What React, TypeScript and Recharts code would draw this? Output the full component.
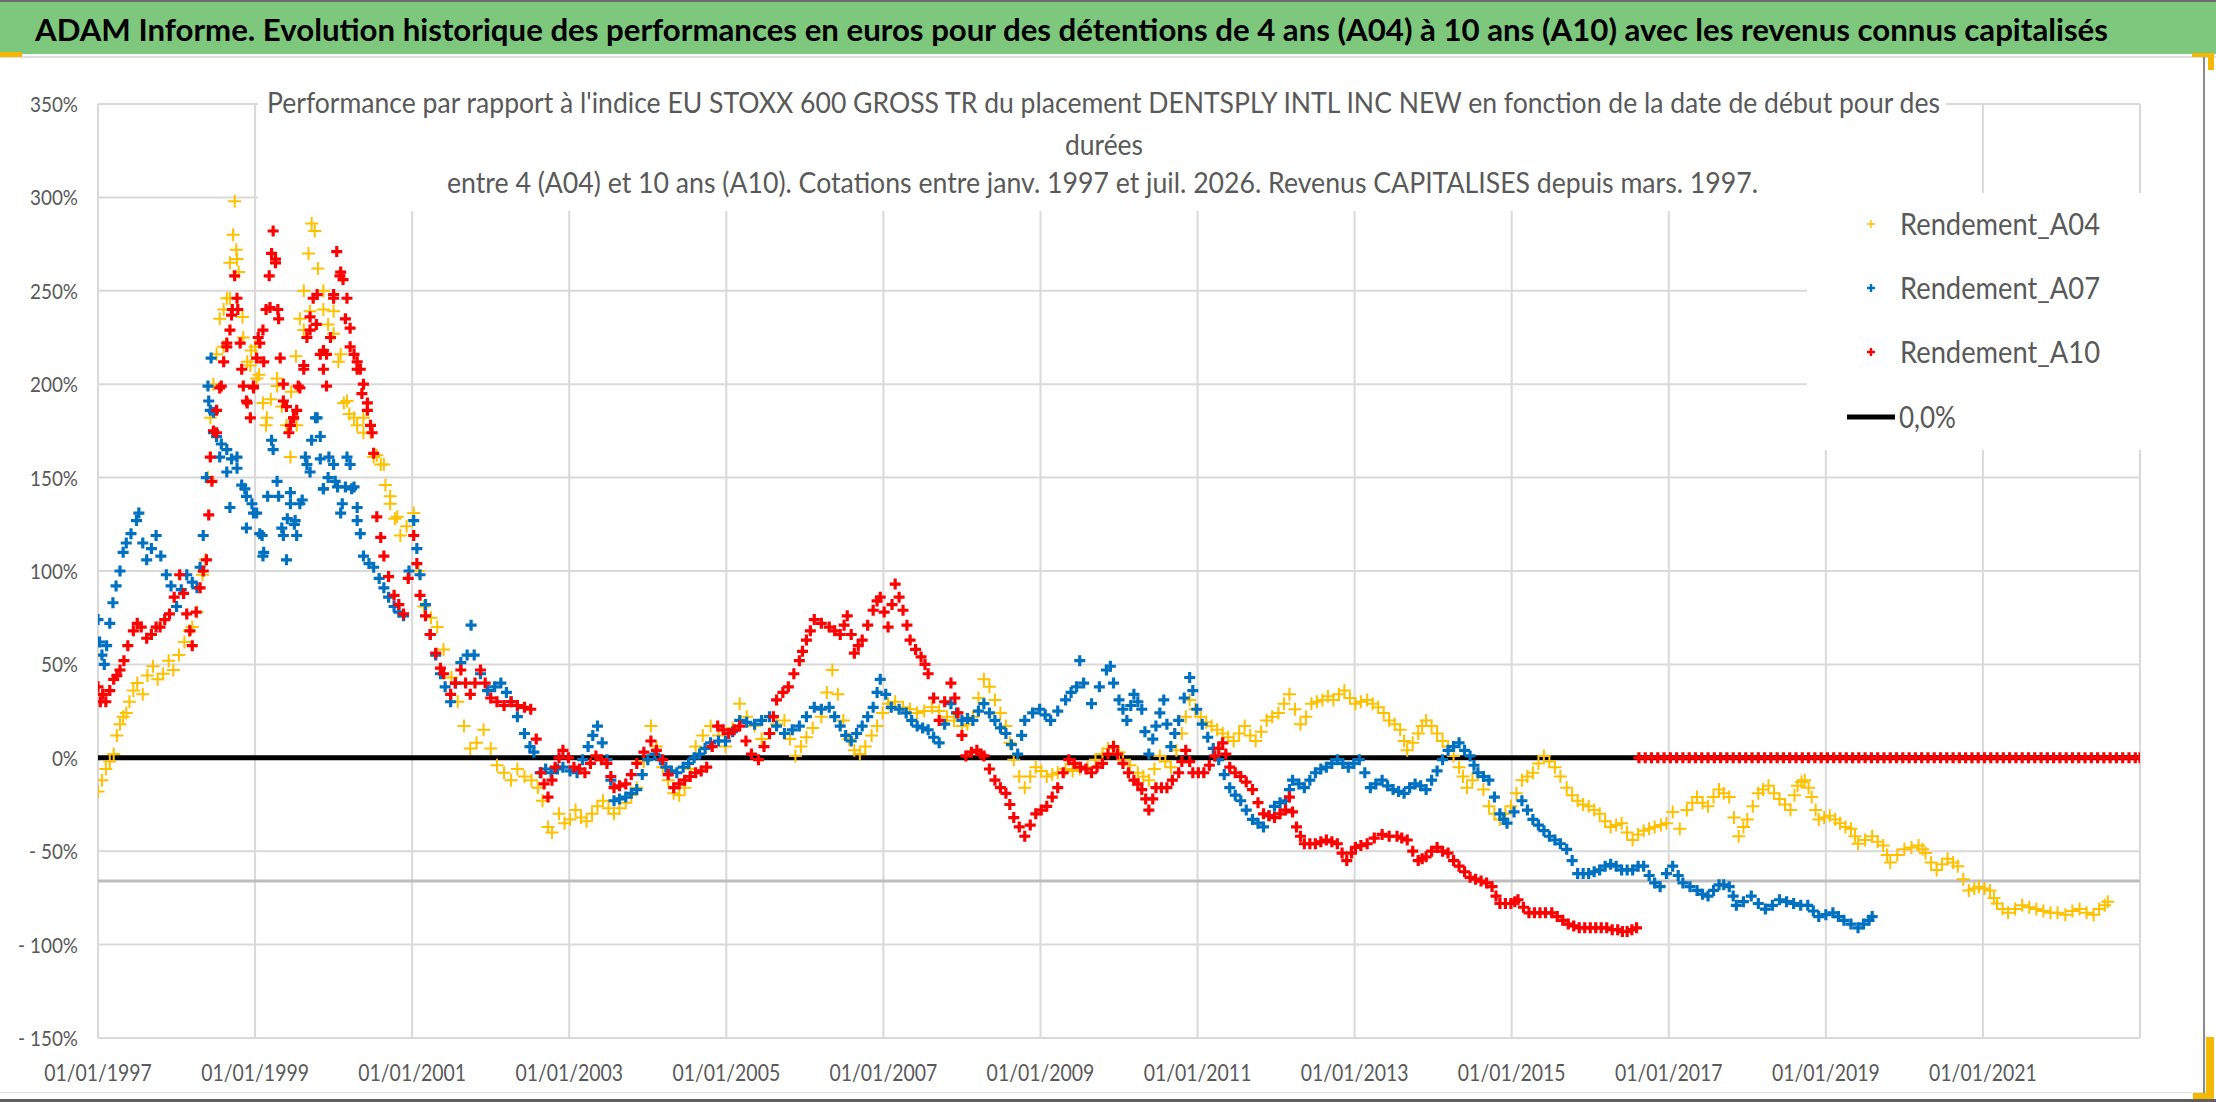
import { ScatterChart, Scatter, XAxis, YAxis, CartesianGrid } from 'recharts'

// values: [year, performance %]
const A04: [number, number][] = [
  [1997.0, -18], [1997.05, -12], [1997.1, -6], [1997.15, -2], [1997.2, 2], [1997.24, 12], [1997.28, 18],
  [1997.32, 22], [1997.36, 24], [1997.4, 30], [1997.45, 36], [1997.5, 40], [1997.57, 34], [1997.63, 44],
  [1997.7, 49], [1997.76, 42], [1997.83, 45], [1997.9, 52], [1997.96, 47], [1998.03, 55], [1998.1, 62],
  [1998.16, 68], [1998.2, 70], [1998.26, 78], [1998.33, 98], [1998.37, 106], [1998.4, 150], [1998.43, 182],
  [1998.47, 200], [1998.51, 216], [1998.55, 235], [1998.6, 240], [1998.64, 246], [1998.68, 265], [1998.72, 280],
  [1998.74, 298], [1998.76, 272], [1998.79, 260], [1998.84, 236], [1998.9, 212], [1998.95, 218], [1999.0, 220],
  [1999.05, 205], [1999.1, 190], [1999.14, 178], [1999.2, 192], [1999.28, 203], [1999.34, 188], [1999.4, 178],
  [1999.46, 196], [1999.52, 215], [1999.57, 235], [1999.62, 250], [1999.68, 270], [1999.72, 286], [1999.76, 282],
  [1999.8, 262], [1999.87, 240], [1999.93, 232], [2000.0, 227], [2000.06, 212], [2000.13, 190], [2000.2, 184],
  [2000.3, 178], [2000.38, 182], [2000.47, 174], [2000.55, 162], [2000.6, 157], [2000.66, 146], [2000.72, 136],
  [2000.78, 128], [2000.85, 119], [2000.93, 124], [2001.02, 131], [2001.08, 100], [2001.15, 81], [2001.24, 75],
  [2001.32, 70], [2001.4, 58], [2001.5, 43], [2001.58, 30], [2001.66, 17], [2001.74, 5], [2001.82, 8],
  [2001.91, 15], [2002.0, 5], [2002.08, -4], [2002.17, -8], [2002.26, -12], [2002.34, -6], [2002.43, -10],
  [2002.52, -12], [2002.6, -16], [2002.66, -23], [2002.73, -37], [2002.78, -40], [2002.87, -30], [2002.94, -35],
  [2003.01, -33], [2003.08, -28], [2003.15, -32], [2003.22, -34], [2003.29, -30], [2003.36, -26], [2003.43, -23],
  [2003.5, -27], [2003.57, -30], [2003.64, -27], [2003.72, -24], [2003.79, -20], [2003.86, -16], [2003.95, -2],
  [2004.04, 17], [2004.11, 6], [2004.19, -5], [2004.26, -12], [2004.33, -19], [2004.4, -20], [2004.47, -16],
  [2004.54, -6], [2004.61, 6], [2004.7, 12], [2004.8, 17], [2004.9, 12], [2004.99, 6], [2005.08, 16],
  [2005.17, 29], [2005.26, 22], [2005.36, 17], [2005.45, 10], [2005.55, 13], [2005.64, 18], [2005.74, 20],
  [2005.81, 10], [2005.88, 1], [2005.95, 6], [2006.02, 11], [2006.1, 16], [2006.21, 22], [2006.28, 35],
  [2006.35, 47], [2006.42, 34], [2006.49, 20], [2006.56, 10], [2006.63, 4], [2006.7, 2], [2006.77, 6],
  [2006.85, 12], [2006.92, 17], [2006.99, 24], [2007.06, 29], [2007.15, 30], [2007.25, 27], [2007.34, 26],
  [2007.43, 24], [2007.52, 25], [2007.62, 27], [2007.71, 25], [2007.81, 22], [2007.9, 20], [2008.0, 17],
  [2008.07, 18], [2008.14, 22], [2008.21, 32], [2008.28, 42], [2008.35, 38], [2008.42, 31], [2008.49, 24],
  [2008.56, 17], [2008.61, 8], [2008.66, -1], [2008.73, -10], [2008.8, -16], [2008.87, -10], [2008.94, -5],
  [2009.01, -7], [2009.08, -10], [2009.15, -9], [2009.22, -8], [2009.32, -6], [2009.41, -7], [2009.5, -6],
  [2009.6, -5], [2009.7, -1], [2009.79, 2], [2009.86, 5], [2009.93, 6], [2010.0, 3], [2010.05, -1],
  [2010.14, -4], [2010.24, -8], [2010.31, -10], [2010.38, -12], [2010.45, -6], [2010.52, 1], [2010.59, -2],
  [2010.66, -5], [2010.73, 4], [2010.8, 13], [2010.85, 22], [2010.9, 31], [2010.97, 26], [2011.04, 22],
  [2011.11, 19], [2011.18, 17], [2011.25, 15], [2011.32, 13], [2011.39, 11], [2011.46, 9], [2011.53, 13],
  [2011.6, 17], [2011.67, 12], [2011.74, 9], [2011.81, 14], [2011.88, 20], [2011.95, 22], [2012.03, 24],
  [2012.1, 29], [2012.17, 34], [2012.24, 26], [2012.31, 18], [2012.38, 22], [2012.45, 29], [2012.52, 30],
  [2012.59, 31], [2012.66, 33], [2012.73, 31], [2012.8, 34], [2012.87, 36], [2012.94, 32], [2013.01, 29],
  [2013.08, 30], [2013.16, 31], [2013.23, 29], [2013.3, 27], [2013.37, 24], [2013.44, 20], [2013.51, 18],
  [2013.58, 15], [2013.63, 9], [2013.67, 4], [2013.74, 8], [2013.81, 13], [2013.86, 17], [2013.91, 20],
  [2013.98, 17], [2014.05, 13], [2014.12, 9], [2014.19, 6], [2014.26, 1], [2014.33, -5], [2014.38, -10],
  [2014.43, -16], [2014.5, -12], [2014.57, -8], [2014.64, -17], [2014.71, -26], [2014.78, -30], [2014.85, -33],
  [2014.92, -30], [2014.99, -26], [2015.06, -19], [2015.13, -12], [2015.2, -10], [2015.27, -8], [2015.34, -3],
  [2015.41, 1], [2015.48, -2], [2015.55, -5], [2015.62, -10], [2015.7, -16], [2015.77, -20], [2015.84, -23],
  [2015.91, -25], [2015.98, -26], [2016.05, -28], [2016.12, -30], [2016.19, -34], [2016.26, -37], [2016.33, -36],
  [2016.4, -35], [2016.47, -40], [2016.54, -44], [2016.61, -41], [2016.68, -39], [2016.75, -38], [2016.82, -37],
  [2016.9, -36], [2016.97, -35], [2017.05, -29], [2017.14, -38], [2017.23, -28], [2017.3, -24], [2017.36, -21],
  [2017.43, -24], [2017.5, -26], [2017.57, -21], [2017.64, -17], [2017.7, -19], [2017.77, -21], [2017.83, -32],
  [2017.89, -42], [2017.95, -37], [2018.0, -33], [2018.07, -26], [2018.14, -19], [2018.2, -17], [2018.27, -15],
  [2018.34, -19], [2018.41, -22], [2018.48, -25], [2018.55, -28], [2018.6, -20], [2018.64, -15], [2018.69, -13],
  [2018.73, -12], [2018.78, -16], [2018.82, -21], [2018.87, -28], [2018.91, -33], [2018.98, -32], [2019.05, -31],
  [2019.12, -33], [2019.18, -35], [2019.25, -37], [2019.32, -38], [2019.37, -42], [2019.41, -46], [2019.5, -44],
  [2019.59, -42], [2019.66, -45], [2019.73, -47], [2019.78, -52], [2019.82, -56], [2019.91, -52], [2020.0, -49],
  [2020.09, -48], [2020.18, -47], [2020.23, -49], [2020.27, -51], [2020.34, -56], [2020.41, -60], [2020.48, -57],
  [2020.55, -54], [2020.62, -56], [2020.68, -58], [2020.75, -65], [2020.82, -71], [2020.89, -70], [2020.95, -69],
  [2021.02, -70], [2021.09, -71], [2021.14, -75], [2021.18, -78], [2021.25, -81], [2021.32, -83], [2021.41, -81],
  [2021.5, -79], [2021.59, -80], [2021.68, -81], [2021.77, -82], [2021.86, -83], [2021.95, -83], [2022.05, -84],
  [2022.14, -82], [2022.23, -81], [2022.32, -83], [2022.41, -84], [2022.48, -81], [2022.55, -79], [2022.59, -77],
]

// second reading of the wide 1998-2000 cloud
const A04_CLOUD: [number, number][] = [
  [1998.6, 220], [1998.68, 246], [1998.77, 267], [1998.85, 225], [1998.94, 210], [1999.02, 203], [1999.15, 182],
  [1999.28, 199], [1999.45, 161], [1999.53, 178], [1999.62, 229], [1999.7, 239], [1999.87, 250], [2000.0, 239],
  [2000.09, 216], [2000.17, 191], [2000.26, 182], [2000.38, 174], [2000.51, 161], [2000.64, 157], [2000.72, 140],
  [2000.81, 129],
]

const A07: [number, number][] = [
  [1997.0, 74], [1997.02, 62], [1997.05, 55], [1997.08, 50], [1997.11, 60], [1997.15, 72], [1997.19, 83],
  [1997.23, 92], [1997.28, 100], [1997.32, 110], [1997.36, 115], [1997.42, 120], [1997.49, 127], [1997.52, 131],
  [1997.57, 115], [1997.62, 106], [1997.68, 112], [1997.74, 119], [1997.8, 108], [1997.87, 98], [1997.93, 92],
  [1998.0, 81], [1998.06, 90], [1998.13, 98], [1998.2, 94], [1998.26, 91], [1998.3, 102], [1998.34, 119],
  [1998.38, 150], [1998.41, 191], [1998.44, 214], [1998.47, 185], [1998.51, 172], [1998.57, 168], [1998.64, 165],
  [1998.7, 160], [1998.77, 155], [1998.83, 146], [1998.89, 140], [1998.96, 136], [1999.02, 131], [1999.06, 120],
  [1999.1, 108], [1999.16, 140], [1999.23, 165], [1999.3, 140], [1999.36, 119], [1999.41, 128], [1999.45, 136],
  [1999.5, 125], [1999.53, 119], [1999.6, 138], [1999.66, 157], [1999.72, 170], [1999.79, 182], [1999.83, 160],
  [1999.87, 144], [1999.93, 150], [2000.0, 157], [2000.05, 145], [2000.09, 131], [2000.15, 145], [2000.21, 157],
  [2000.26, 145], [2000.3, 134], [2000.34, 120], [2000.38, 108], [2000.45, 104], [2000.51, 102], [2000.58, 96],
  [2000.64, 91], [2000.7, 86], [2000.77, 81], [2000.83, 78], [2000.89, 76], [2000.96, 100], [2001.02, 127],
  [2001.06, 112], [2001.1, 98], [2001.17, 82], [2001.23, 66], [2001.3, 55], [2001.36, 45], [2001.42, 38],
  [2001.49, 30], [2001.55, 40], [2001.62, 51], [2001.7, 55], [2001.75, 71], [2001.79, 55], [2001.87, 45],
  [2001.96, 36], [2002.05, 38], [2002.13, 40], [2002.2, 35], [2002.26, 30], [2002.34, 22], [2002.43, 13],
  [2002.5, 6], [2002.55, 3], [2002.63, -8], [2002.7, -6], [2002.77, -8], [2002.85, -6], [2002.92, -5],
  [2003.01, -7], [2003.1, -8], [2003.17, -1], [2003.24, 6], [2003.3, 12], [2003.36, 17], [2003.42, 8],
  [2003.48, -1], [2003.53, -12], [2003.57, -23], [2003.64, -22], [2003.72, -21], [2003.79, -19], [2003.86, -17],
  [2003.93, -9], [2004.0, -1], [2004.09, 2], [2004.16, -1], [2004.23, -5], [2004.3, -7], [2004.37, -8],
  [2004.45, -5], [2004.52, -3], [2004.59, 0], [2004.66, 2], [2004.73, 5], [2004.8, 8], [2004.9, 9],
  [2004.99, 9], [2005.08, 14], [2005.17, 20], [2005.26, 19], [2005.36, 18], [2005.45, 20], [2005.55, 22],
  [2005.64, 17], [2005.74, 13], [2005.84, 15], [2005.93, 17], [2006.02, 22], [2006.12, 27], [2006.21, 26],
  [2006.31, 27], [2006.38, 22], [2006.45, 17], [2006.52, 12], [2006.59, 9], [2006.66, 13], [2006.73, 17],
  [2006.8, 22], [2006.87, 27], [2006.92, 35], [2006.96, 42], [2007.03, 34], [2007.1, 27], [2007.2, 26],
  [2007.29, 24], [2007.36, 20], [2007.43, 17], [2007.5, 16], [2007.57, 15], [2007.64, 11], [2007.71, 8],
  [2007.78, 18], [2007.86, 29], [2007.93, 24], [2008.0, 20], [2008.07, 21], [2008.14, 20], [2008.21, 25],
  [2008.28, 29], [2008.35, 24], [2008.42, 20], [2008.49, 16], [2008.56, 13], [2008.63, 7], [2008.71, 2],
  [2008.76, 12], [2008.8, 20], [2008.9, 24], [2008.99, 26], [2009.06, 23], [2009.13, 20], [2009.22, 25],
  [2009.32, 31], [2009.39, 35], [2009.46, 38], [2009.5, 52], [2009.55, 40], [2009.65, 29], [2009.75, 38],
  [2009.84, 47], [2009.89, 49], [2009.93, 40], [2010.0, 31], [2010.05, 26], [2010.1, 20], [2010.15, 28],
  [2010.19, 34], [2010.24, 30], [2010.29, 26], [2010.33, 14], [2010.38, 2], [2010.43, 10], [2010.47, 17],
  [2010.52, 24], [2010.57, 31], [2010.61, 18], [2010.66, 6], [2010.71, 13], [2010.76, 20], [2010.83, 32],
  [2010.9, 43], [2010.94, 36], [2010.99, 26], [2011.06, 18], [2011.13, 11], [2011.2, 5], [2011.27, -1],
  [2011.34, -9], [2011.41, -16], [2011.48, -20], [2011.55, -23], [2011.62, -28], [2011.7, -33], [2011.77, -35],
  [2011.84, -37], [2011.91, -31], [2011.98, -26], [2012.05, -24], [2012.12, -23], [2012.17, -17], [2012.21, -12],
  [2012.29, -14], [2012.36, -16], [2012.43, -12], [2012.5, -8], [2012.57, -6], [2012.64, -5], [2012.71, -3],
  [2012.78, -1], [2012.85, -3], [2012.92, -5], [2012.99, -3], [2013.06, -1], [2013.13, -8], [2013.2, -16],
  [2013.27, -14], [2013.35, -12], [2013.42, -15], [2013.49, -17], [2013.56, -18], [2013.63, -19], [2013.7, -16],
  [2013.77, -14], [2013.84, -15], [2013.91, -17], [2013.98, -12], [2014.05, -7], [2014.12, -1], [2014.19, 4],
  [2014.26, 6], [2014.33, 8], [2014.4, 4], [2014.47, 1], [2014.52, -4], [2014.57, -8], [2014.64, -10],
  [2014.71, -12], [2014.78, -21], [2014.85, -30], [2014.9, -33], [2014.94, -35], [2015.03, -29], [2015.13, -23],
  [2015.2, -28], [2015.27, -33], [2015.34, -36], [2015.41, -39], [2015.48, -42], [2015.55, -44], [2015.62, -46],
  [2015.7, -49], [2015.77, -55], [2015.84, -62], [2015.91, -62], [2015.98, -62], [2016.05, -61], [2016.12, -60],
  [2016.19, -58], [2016.26, -57], [2016.33, -58], [2016.4, -60], [2016.47, -60], [2016.54, -60], [2016.61, -58],
  [2016.68, -58], [2016.75, -63], [2016.82, -67], [2016.89, -69], [2016.97, -62], [2017.05, -58], [2017.12, -63],
  [2017.18, -67], [2017.27, -69], [2017.36, -71], [2017.43, -73], [2017.5, -74], [2017.57, -71], [2017.64, -68],
  [2017.7, -68], [2017.77, -69], [2017.82, -74], [2017.86, -79], [2017.95, -77], [2018.05, -74], [2018.14, -78],
  [2018.23, -81], [2018.32, -79], [2018.41, -76], [2018.5, -77], [2018.59, -78], [2018.68, -79], [2018.77, -79],
  [2018.84, -82], [2018.91, -85], [2019.0, -84], [2019.09, -83], [2019.16, -85], [2019.23, -87], [2019.32, -89],
  [2019.41, -91], [2019.48, -89], [2019.55, -87], [2019.59, -85],
]

const A07_CLOUD: [number, number][] = [
  [1998.4, 199], [1998.43, 186], [1998.47, 174], [1998.55, 161], [1998.64, 153], [1998.68, 134], [1998.77, 161],
  [1998.87, 144], [1998.89, 123], [1998.98, 131], [1999.09, 119], [1999.11, 110], [1999.21, 170], [1999.28, 148],
  [1999.34, 123], [1999.4, 106], [1999.45, 142], [1999.51, 127], [1999.57, 136], [1999.64, 161], [1999.7, 153],
  [1999.77, 182], [1999.83, 172], [1999.87, 144], [1999.94, 161], [2000.02, 148], [2000.11, 136], [2000.17, 161],
  [2000.23, 144], [2000.3, 127],
]

const A10: [number, number][] = [
  [1997.0, 38], [1997.03, 30], [1997.06, 34], [1997.1, 30], [1997.15, 36], [1997.2, 42], [1997.24, 44],
  [1997.28, 47], [1997.33, 52], [1997.38, 60], [1997.45, 68], [1997.5, 72], [1997.55, 70], [1997.62, 64],
  [1997.68, 66], [1997.74, 70], [1997.79, 70], [1997.85, 74], [1997.91, 77], [1997.97, 86], [1998.04, 98],
  [1998.09, 88], [1998.13, 77], [1998.17, 68], [1998.2, 60], [1998.25, 78], [1998.3, 91], [1998.34, 100],
  [1998.38, 106], [1998.41, 130], [1998.43, 161], [1998.47, 175], [1998.51, 186], [1998.55, 198], [1998.6, 212],
  [1998.64, 222], [1998.68, 229], [1998.71, 240], [1998.74, 258], [1998.78, 240], [1998.81, 222], [1998.85, 199],
  [1998.9, 190], [1998.94, 182], [1998.98, 198], [1999.02, 214], [1999.06, 222], [1999.1, 229], [1999.14, 240],
  [1999.18, 258], [1999.21, 270], [1999.23, 282], [1999.26, 265], [1999.29, 240], [1999.32, 214], [1999.36, 200],
  [1999.4, 188], [1999.45, 178], [1999.49, 182], [1999.53, 186], [1999.57, 198], [1999.62, 210], [1999.66, 225],
  [1999.7, 236], [1999.74, 246], [1999.78, 232], [1999.83, 216], [1999.87, 208], [1999.91, 216], [1999.96, 225],
  [2000.0, 248], [2000.04, 271], [2000.08, 258], [2000.12, 256], [2000.17, 246], [2000.21, 230], [2000.26, 216],
  [2000.3, 212], [2000.34, 208], [2000.38, 200], [2000.43, 190], [2000.47, 178], [2000.51, 163], [2000.55, 129],
  [2000.6, 118], [2000.64, 108], [2000.7, 97], [2000.77, 87], [2000.83, 82], [2000.89, 77], [2000.95, 96],
  [2001.02, 119], [2001.06, 104], [2001.1, 87], [2001.17, 76], [2001.23, 66], [2001.3, 56], [2001.36, 48],
  [2001.4, 45], [2001.49, 34], [2001.55, 40], [2001.62, 47], [2001.68, 40], [2001.74, 34], [2001.8, 40],
  [2001.87, 47], [2001.93, 40], [2002.0, 32], [2002.08, 30], [2002.17, 28], [2002.26, 30], [2002.34, 28],
  [2002.43, 27], [2002.51, 26], [2002.58, 10], [2002.64, -8], [2002.68, -14], [2002.73, -21], [2002.78, -12],
  [2002.82, -5], [2002.87, 0], [2002.92, 4], [2002.99, 0], [2003.06, -5], [2003.13, -6], [2003.2, -8],
  [2003.27, -3], [2003.34, 1], [2003.41, -1], [2003.48, -3], [2003.53, -10], [2003.57, -16], [2003.64, -15],
  [2003.72, -14], [2003.79, -9], [2003.86, -3], [2003.95, 3], [2004.04, 9], [2004.11, 4], [2004.19, -1],
  [2004.26, -9], [2004.33, -16], [2004.4, -14], [2004.47, -12], [2004.54, -10], [2004.61, -8], [2004.68, -7],
  [2004.75, -5], [2004.82, 6], [2004.89, 17], [2004.96, 15], [2005.03, 13], [2005.1, 15], [2005.17, 17],
  [2005.25, 9], [2005.32, 2], [2005.41, -1], [2005.48, 6], [2005.55, 13], [2005.6, 22], [2005.64, 31],
  [2005.72, 35], [2005.79, 38], [2005.86, 45], [2005.93, 52], [2005.97, 57], [2006.02, 63], [2006.07, 68],
  [2006.12, 74], [2006.21, 72], [2006.31, 70], [2006.38, 68], [2006.45, 66], [2006.5, 71], [2006.54, 76],
  [2006.59, 66], [2006.63, 56], [2006.68, 60], [2006.73, 63], [2006.8, 71], [2006.87, 79], [2006.92, 84],
  [2006.96, 86], [2007.01, 78], [2007.06, 70], [2007.11, 82], [2007.15, 93], [2007.2, 86], [2007.25, 79],
  [2007.3, 71], [2007.34, 63], [2007.41, 58], [2007.48, 54], [2007.53, 50], [2007.57, 45], [2007.64, 32],
  [2007.71, 20], [2007.78, 30], [2007.86, 40], [2007.91, 32], [2007.95, 24], [2008.0, 12], [2008.05, 1],
  [2008.12, 3], [2008.19, 4], [2008.24, 2], [2008.28, 1], [2008.35, -6], [2008.42, -12], [2008.49, -16],
  [2008.56, -19], [2008.61, -25], [2008.66, -32], [2008.73, -37], [2008.8, -42], [2008.87, -36], [2008.94, -30],
  [2009.01, -28], [2009.08, -26], [2009.15, -21], [2009.22, -16], [2009.29, -8], [2009.36, -1], [2009.43, -3],
  [2009.51, -5], [2009.58, -6], [2009.65, -8], [2009.72, -5], [2009.79, -3], [2009.86, 2], [2009.93, 6],
  [2009.98, 2], [2010.05, -3], [2010.12, -8], [2010.19, -12], [2010.24, -14], [2010.29, -17], [2010.34, -22],
  [2010.38, -28], [2010.43, -22], [2010.47, -16], [2010.54, -16], [2010.61, -16], [2010.68, -12], [2010.76, -8],
  [2010.8, -2], [2010.85, 4], [2010.9, -2], [2010.94, -8], [2011.01, -8], [2011.08, -8], [2011.15, -4],
  [2011.22, 1], [2011.27, 5], [2011.32, 8], [2011.36, 2], [2011.41, -5], [2011.48, -8], [2011.55, -10],
  [2011.62, -13], [2011.7, -17], [2011.77, -24], [2011.84, -30], [2011.91, -31], [2011.98, -32], [2012.05, -30],
  [2012.12, -28], [2012.17, -21], [2012.21, -29], [2012.26, -37], [2012.31, -42], [2012.36, -46], [2012.43, -46],
  [2012.5, -46], [2012.57, -45], [2012.64, -44], [2012.71, -45], [2012.78, -46], [2012.84, -51], [2012.9, -55],
  [2012.96, -51], [2013.01, -48], [2013.08, -47], [2013.16, -46], [2013.25, -43], [2013.35, -41], [2013.44, -42],
  [2013.54, -42], [2013.6, -43], [2013.67, -44], [2013.74, -50], [2013.81, -55], [2013.86, -54], [2013.91, -53],
  [2013.98, -50], [2014.05, -48], [2014.12, -50], [2014.19, -51], [2014.26, -55], [2014.33, -58], [2014.4, -61],
  [2014.47, -64], [2014.54, -65], [2014.61, -66], [2014.68, -67], [2014.75, -69], [2014.8, -74], [2014.85, -78],
  [2014.92, -78], [2014.99, -78], [2015.04, -77], [2015.08, -76], [2015.15, -80], [2015.22, -83], [2015.29, -83],
  [2015.36, -83], [2015.43, -83], [2015.51, -83], [2015.58, -85], [2015.65, -87], [2015.72, -89], [2015.79, -90],
  [2015.86, -91], [2015.93, -91], [2016.0, -91], [2016.07, -91], [2016.14, -91], [2016.21, -91], [2016.28, -92],
  [2016.35, -92], [2016.41, -93], [2016.47, -93], [2016.53, -92], [2016.59, -91],
  // after the last quote the A10 series sits on 0
  [2016.62, 0], [2016.7, 0], [2016.78, 0], [2016.86, 0], [2016.94, 0], [2017.02, 0], [2017.1, 0], [2017.18, 0],
  [2017.26, 0], [2017.34, 0], [2017.42, 0], [2017.5, 0], [2017.58, 0], [2017.66, 0], [2017.74, 0], [2017.82, 0],
  [2017.9, 0], [2017.98, 0], [2018.06, 0], [2018.14, 0], [2018.22, 0], [2018.3, 0], [2018.38, 0], [2018.46, 0],
  [2018.54, 0], [2018.62, 0], [2018.7, 0], [2018.78, 0], [2018.86, 0], [2018.94, 0], [2019.02, 0], [2019.1, 0],
  [2019.18, 0], [2019.26, 0], [2019.34, 0], [2019.42, 0], [2019.5, 0], [2019.58, 0], [2019.66, 0], [2019.74, 0],
  [2019.82, 0], [2019.9, 0], [2019.98, 0], [2020.06, 0], [2020.14, 0], [2020.22, 0], [2020.3, 0], [2020.38, 0],
  [2020.46, 0], [2020.54, 0], [2020.62, 0], [2020.7, 0], [2020.78, 0], [2020.86, 0], [2020.94, 0], [2021.02, 0],
  [2021.1, 0], [2021.18, 0], [2021.26, 0], [2021.34, 0], [2021.42, 0], [2021.5, 0], [2021.58, 0], [2021.66, 0],
  [2021.74, 0], [2021.82, 0], [2021.9, 0], [2021.98, 0], [2022.06, 0], [2022.14, 0], [2022.22, 0], [2022.3, 0],
  [2022.38, 0], [2022.46, 0], [2022.54, 0], [2022.62, 0], [2022.7, 0], [2022.78, 0], [2022.86, 0], [2022.94, 0],
  [2023.0, 0],
]

const A10_CLOUD: [number, number][] = [
  [1998.45, 148], [1998.51, 174], [1998.57, 199], [1998.64, 220], [1998.7, 237], [1998.77, 246], [1998.83, 208],
  [1998.89, 191], [1998.98, 199], [1999.04, 225], [1999.11, 212], [1999.19, 241], [1999.26, 267], [1999.3, 235],
  [1999.36, 191], [1999.43, 174], [1999.49, 182], [1999.55, 199], [1999.62, 208], [1999.7, 229], [1999.79, 248],
  [1999.87, 218], [1999.91, 199], [2000.0, 246], [2000.09, 260], [2000.15, 235], [2000.21, 220], [2000.3, 208],
  [2000.36, 195], [2000.43, 186], [2000.49, 174],
]

const ZERO_LINE: [number, number][] = [[1997, 0], [2023, 0]]
const GREY_LINE: [number, number][] = [[1997, -66], [2023, -66]]

const X_TICKS = [1997, 1999, 2001, 2003, 2005, 2007, 2009, 2011, 2013, 2015, 2017, 2019, 2021]
const Y_TICKS = [-150, -100, -50, 0, 50, 100, 150, 200, 250, 300, 350]

const LEGEND = [
  { name: 'Rendement_A04', color: '#FFC000' },
  { name: 'Rendement_A07', color: '#0070C0' },
  { name: 'Rendement_A10', color: '#FF0000' },
]

const TITLE =
  'ADAM Informe. Evolution historique des performances en euros pour des détentions de 4 ans (A04) à 10 ans (A10) avec les revenus connus capitalisés'
const SUBTITLE = [
  "Performance par rapport à l'indice EU STOXX 600 GROSS TR  du placement DENTSPLY INTL INC NEW en fonction de la date de début pour des",
  'durées',
  'entre 4 (A04) et 10 ans (A10). Cotations entre janv. 1997 et juil. 2026. Revenus CAPITALISES depuis mars. 1997.',
]

const FONT = 'Lato, "Open Sans", sans-serif'
const GREY_TEXT = '#595959'

const toPoints = (rows: [number, number][]) => rows.map(([x, y]) => ({ x, y }))

const yLabel = (v: number) => (v < 0 ? `- ${Math.abs(v)}%` : `${v}%`)

function plus(color: string, half: number, width: number) {
  return (props: any) => {
    const { cx, cy } = props
    if (cx == null || cy == null) return <g />
    return (
      <path
        d={`M${cx - half},${cy}H${cx + half}M${cx},${cy - half}V${cy + half}`}
        stroke={color}
        strokeWidth={width}
        fill="none"
      />
    )
  }
}

const noDot = () => <g />

function YTick({ x, y, payload }: any) {
  return (
    <g transform={`translate(${x},${y})`}>
      <text transform="scale(0.86,1)" textAnchor="end" dy={8} fill={GREY_TEXT} fontSize={22} fontFamily={FONT}>
        {yLabel(payload.value)}
      </text>
    </g>
  )
}

function XTick({ x, y, payload }: any) {
  return (
    <g transform={`translate(${x},${y + 37})`}>
      <text transform="scale(0.81,1)" textAnchor="middle" fill={GREY_TEXT} fontSize={24} fontFamily={FONT}>
        {`01/01/${payload.value}`}
      </text>
    </g>
  )
}

export default function App() {
  return (
    <div
      style={{
        position: 'fixed',
        left: 0,
        top: 0,
        width: 2216,
        height: 1102,
        background: '#ffffff',
        overflow: 'hidden',
      }}
    >
      <div style={{ position: 'absolute', left: 0, top: 0 }}>
        <ScatterChart width={2216} height={1102} margin={{ top: 104, right: 76, bottom: 14, left: 8 }}>
          <CartesianGrid stroke="#d9d9d9" strokeWidth={2} />
          <XAxis
            type="number"
            dataKey="x"
            domain={[1997, 2023]}
            ticks={X_TICKS}
            allowDataOverflow
            axisLine={false}
            tickLine={false}
            tickMargin={0}
            height={50}
            tick={<XTick />}
          />
          <YAxis
            type="number"
            dataKey="y"
            domain={[-150, 350]}
            ticks={Y_TICKS}
            allowDataOverflow
            axisLine={false}
            tickLine={false}
            tickMargin={14}
            width={90}
            tick={<YTick />}
          />
          <Scatter
            data={toPoints(GREY_LINE)}
            line={{ stroke: '#bdbdbd', strokeWidth: 3 }}
            shape={noDot}
            isAnimationActive={false}
          />
          <Scatter
            data={toPoints(ZERO_LINE)}
            line={{ stroke: '#000000', strokeWidth: 5 }}
            shape={noDot}
            isAnimationActive={false}
          />
          <Scatter data={toPoints([...A04, ...A04_CLOUD])} shape={plus('#FFC000', 6.5, 2)} isAnimationActive={false} />
          <Scatter data={toPoints([...A07, ...A07_CLOUD])} shape={plus('#0070C0', 5.5, 3.2)} isAnimationActive={false} />
          <Scatter data={toPoints([...A10, ...A10_CLOUD])} shape={plus('#FF0000', 5.5, 3.2)} isAnimationActive={false} />
        </ScatterChart>
      </div>

      <svg
        width={2216}
        height={1102}
        style={{ position: 'absolute', left: 0, top: 0, pointerEvents: 'none' }}
        fontFamily={FONT}
      >
        {/* green banner */}
        <rect x={0} y={0} width={2216} height={54} fill="#7ec87e" />
        <rect x={0} y={0} width={2216} height={2} fill="#6b6b6b" />
        <rect x={0} y={56} width={2216} height={2} fill="#dedede" />
        <text x={35} y={41} fontSize={31} fontWeight={700} fill="#000" textLength={2073} lengthAdjust="spacingAndGlyphs">
          {TITLE}
        </text>

        {/* chart title box */}
        <rect x={258} y={80} width={1688} height={131} fill="#fff" />
        <text x={267} y={113} fontSize={28} fill={GREY_TEXT} textLength={1673} lengthAdjust="spacingAndGlyphs">
          {SUBTITLE[0]}
        </text>
        <text x={1065} y={155} fontSize={28} fill={GREY_TEXT} textLength={78} lengthAdjust="spacingAndGlyphs">
          {SUBTITLE[1]}
        </text>
        <text x={447} y={193} fontSize={28} fill={GREY_TEXT} textLength={1311} lengthAdjust="spacingAndGlyphs">
          {SUBTITLE[2]}
        </text>

        {/* legend */}
        <rect x={1807} y={193} width={345} height={257} fill="#fff" />
        {LEGEND.map((item, i) => {
          const cy = 224 + i * 64
          const w = i === 0 ? 1.4 : 2.4
          return (
            <g key={item.name}>
              <path d={`M1867,${cy}H1875M1871,${cy - 4}V${cy + 4}`} stroke={item.color} strokeWidth={w} />
              <text x={1900} y={cy + 11} fontSize={30} fill={GREY_TEXT} textLength={200} lengthAdjust="spacingAndGlyphs">
                {item.name}
              </text>
            </g>
          )
        })}
        <line x1={1847} x2={1895} y1={417} y2={417} stroke="#000" strokeWidth={5} />
        <text x={1899} y={428} fontSize={30} fill={GREY_TEXT} textLength={57} lengthAdjust="spacingAndGlyphs">
          0,0%
        </text>

        {/* frame and selection handles */}
        <rect x={2203} y={57} width={2} height={1045} fill="#8a8a8a" />
        <rect x={0} y={1099} width={2216} height={3} fill="#5f5f5f" />
        <rect x={0} y={1092} width={2203} height={1} fill="#e0e0e0" />
        <rect x={0} y={52} width={22} height={5} fill="#f5b800" />
        <rect x={2192} y={53} width={22} height={4} fill="#f5b800" />
        <rect x={2208} y={53} width={6} height={17} fill="#f5b800" />
        <rect x={2206} y={1037} width={8} height={62} fill="#f5b800" />
        <rect x={2193} y={1093} width={21} height={6} fill="#f5b800" />
      </svg>
    </div>
  )
}
